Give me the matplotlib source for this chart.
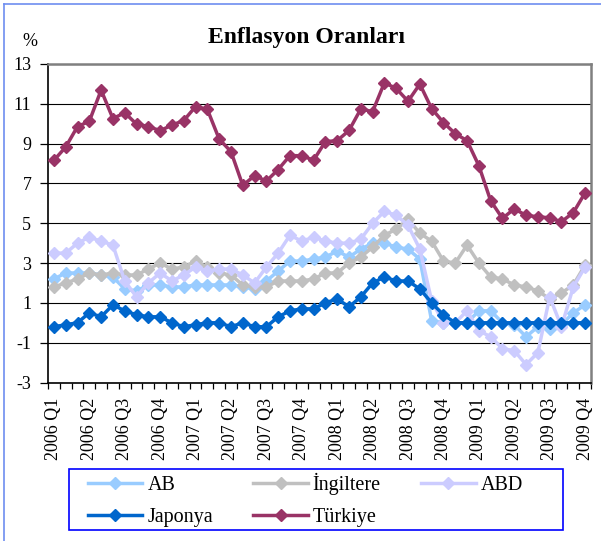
import matplotlib
matplotlib.use('Agg')
import matplotlib.pyplot as plt
import numpy as np
from matplotlib.lines import Line2D
from matplotlib.patches import Rectangle

plt.rcParams['font.family'] = ['Liberation Serif', 'DejaVu Serif']

# ---- data (monthly, 46 points) ----
quarter_labels = ["2006 Q1", "2006 Q2", "2006 Q3", "2006 Q4",
                  "2007 Q1", "2007 Q2", "2007 Q3", "2007 Q4",
                  "2008 Q1", "2008 Q2", "2008 Q3", "2008 Q4",
                  "2009 Q1", "2009 Q2", "2009 Q3", "2009 Q4"]

ab = [2.2, 2.5, 2.5, 2.5, 2.4, 2.3, 1.7, 1.6, 1.9, 1.9,
      1.8, 1.8, 1.9, 1.9, 1.9, 1.9, 1.8, 1.7, 2.1, 2.6, 3.1, 3.1,
      3.2, 3.3, 3.6, 3.3, 3.7, 4.0, 4.0, 3.8, 3.7, 3.2, 0.1, 0.0,
      0.0, 0.0, 0.6, 0.6, 0.0, -0.1, -0.7, -0.2, -0.3, -0.1, 0.5, 0.9]

ingiltere = [1.8, 2.0, 2.2, 2.5, 2.4, 2.5, 2.4, 2.4, 2.7, 3.0,
             2.7, 2.8, 3.1, 2.8, 2.5, 2.4, 1.9, 1.8, 1.8, 2.1, 2.1, 2.1,
             2.2, 2.5, 2.5, 3.0, 3.3, 3.8, 4.4, 4.7, 5.2, 4.5, 4.1, 3.1,
             3.0, 3.9, 3.0, 2.3, 2.2, 1.9, 1.8, 1.6, 1.2, 1.5, 1.9, 2.9]

abd = [3.5, 3.5, 4.0, 4.3, 4.1, 3.9, 2.1, 1.3, 2.0, 2.5,
       2.1, 2.4, 2.8, 2.6, 2.7, 2.7, 2.4, 2.0, 2.8, 3.5, 4.4, 4.1,
       4.3, 4.1, 4.0, 4.0, 4.2, 5.0, 5.6, 5.4, 4.9, 3.7, 1.1, 0.0,
       0.0, 0.6, -0.4, -0.7, -1.3, -1.4, -2.1, -1.5, 1.3, -0.2, 1.8, 2.8]

japonya = [-0.2, -0.1, 0.0, 0.5, 0.3, 0.9, 0.6, 0.4, 0.3, 0.3,
           0.0, -0.2, -0.1, 0.0, 0.0, -0.2, 0.0, -0.2, -0.2, 0.3, 0.6, 0.7,
           0.7, 1.0, 1.2, 0.8, 1.3, 2.0, 2.3, 2.1, 2.1, 1.7, 1.0, 0.4,
           0.0, 0.0, 0.0, 0.0, 0.0, 0.0, 0.0, 0.0, 0.0, 0.0, 0.0, 0.0]

turkiye = [8.16, 8.83, 9.86, 10.12, 11.69, 10.26, 10.55, 9.98, 9.86, 9.65,
           9.93, 10.16, 10.86, 10.72, 9.23, 8.60, 6.90, 7.39, 7.12, 7.70, 8.40, 8.39,
           8.17, 9.10, 9.15, 9.66, 10.74, 10.61, 12.06, 11.77, 11.13, 11.99, 10.76, 10.06,
           9.50, 9.15, 7.89, 6.13, 5.24, 5.73, 5.39, 5.33, 5.27, 5.08, 5.53, 6.53]

series_names = ["AB", "İngiltere", "ABD", "Japonya", "Türkiye"]
series_values = [ab, ingiltere, abd, japonya, turkiye]
series_colors = ["#99CCFF", "#C0C0C0", "#CCCCFF", "#0066CC", "#993366"]

W, H = 601, 541
fig = plt.figure(figsize=(W / 100, H / 100), dpi=100)
ax = fig.add_axes([48 / W, 1 - 382.5 / H, 543 / W, 318.5 / H])

n = len(turkiye)
x = np.arange(n)
handles = {}
for name, vals, col in zip(series_names, series_values, series_colors):
    ln, = ax.plot(x, vals, color=col, lw=2.5, marker='D', ms=6.6,
                  mfc=col, mec=col, label=name, clip_on=False,
                  solid_joinstyle='round', zorder=3)
    handles[name] = ln

ax.set_xlim(-0.5, n - 0.5)
ax.set_ylim(-3, 13)
yt = list(range(-3, 14, 2))
ax.set_yticks(yt)
ax.set_yticklabels([str(v) for v in yt], fontsize=13)
ax.yaxis.grid(True, color='black', lw=0.8)
ax.set_axisbelow(True)

ax.set_xticks(np.arange(-0.5, n, 1.0))
ax.set_xticklabels([])
ax.set_xticks(np.arange(0, n, 3), minor=True)
ax.set_xticklabels(quarter_labels, minor=True, rotation=90, fontsize=13)
ax.tick_params(axis='x', which='major', direction='out', length=4.5, width=0.9, color='black')
ax.tick_params(axis='x', which='minor', length=0, pad=11)
ax.tick_params(axis='y', direction='out', length=6, width=0.9, pad=6)

for s in ['top', 'right']:
    ax.spines[s].set_color('#808080')
    ax.spines[s].set_linewidth(1.8)
for s in ['left', 'bottom']:
    ax.spines[s].set_color('black')
    ax.spines[s].set_linewidth(1.2)

fig.text(306 / W, 1 - 38 / H, 'Enflasyon Oranları', ha='center', va='center',
         fontsize=17, fontweight='bold')
fig.text(30 / W, 1 - 41 / H, '%', ha='center', va='center', fontsize=13)

# legend frame
fig.add_artist(Rectangle((69 / W, 1 - 530 / H), 494 / W, 61 / H,
                         transform=fig.transFigure, fill=False,
                         edgecolor='#0000FF', lw=1.2))
order = ["AB", "Japonya", "İngiltere", "Türkiye", "ABD"]
fig.legend([handles[k] for k in order], order, ncol=3, loc='upper left',
           bbox_to_anchor=(88 / W, 1 - 473 / H), frameon=False, fontsize=14.5,
           handlelength=2.7, handletextpad=0.25, columnspacing=2.0,
           borderpad=0, borderaxespad=0, labelspacing=0.62)

# outer chart border (top/left visible)
fig.add_artist(Line2D([4 / W, 4 / W], [0, 1 - 4 / H], transform=fig.transFigure,
                      color='#6E8EF0', lw=1.2))
fig.add_artist(Line2D([4 / W, 1], [1 - 4 / H, 1 - 4 / H], transform=fig.transFigure,
                      color='#6E8EF0', lw=1.2))

fig.savefig('out.png', dpi=100)
